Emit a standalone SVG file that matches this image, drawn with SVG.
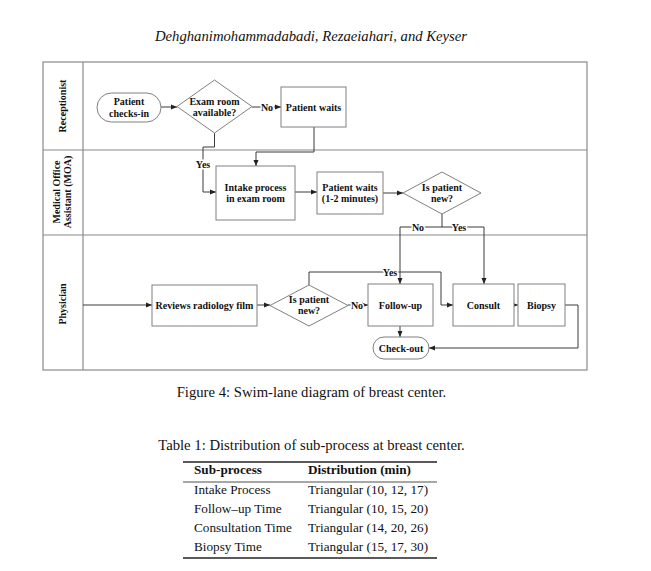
<svg xmlns="http://www.w3.org/2000/svg" width="651" height="571" viewBox="0 0 651 571">
<style>
.lane{fill:none;stroke:#8a8a8a;stroke-width:1.2}
.node{fill:#fff;stroke:#808080;stroke-width:1}
.nt{font-family:"Liberation Serif","Times New Roman",serif;font-size:10px;font-weight:bold;fill:#111;text-anchor:middle}
.lt{font-family:"Liberation Serif","Times New Roman",serif;font-size:10px;font-weight:bold;fill:#111;text-anchor:middle;stroke:#fff;stroke-width:3;paint-order:stroke}
.con{fill:none;stroke:#3a3a3a;stroke-width:1}
.arr{marker-end:url(#ah)}
.cap{font-family:"Liberation Serif","Times New Roman",serif;font-size:14.7px;fill:#111}
.tb{font-family:"Liberation Serif","Times New Roman",serif;font-size:13.2px;fill:#111}
</style>
<defs>
<marker id="ah" markerWidth="6" markerHeight="6" refX="6" refY="3" orient="auto" markerUnits="userSpaceOnUse">
<path d="M0,0.5 L6,3 L0,5.5 z" fill="#222"/>
</marker>
</defs>
<rect width="651" height="571" fill="#fff"/>
<text class="cap" x="311" y="41" text-anchor="middle" font-style="italic" font-size="15">Dehghanimohammadabadi, Rezaeiahari, and Keyser</text>

<g id="lanes">
<rect class="lane" x="43" y="62" width="544" height="308"/>
<line class="lane" x1="83" y1="62" x2="83" y2="370"/>
<line class="lane" x1="43" y1="150" x2="587" y2="150"/>
<line class="lane" x1="43" y1="235" x2="587" y2="235"/>
<g class="nt">
<text transform="translate(62,106) rotate(-90)" y="3.5">Receptionist</text>
<text transform="translate(56,192) rotate(-90)" y="3.5">Medical Office</text>
<text transform="translate(67,192) rotate(-90)" y="3.5">Assistant (MOA)</text>
<text transform="translate(62,304) rotate(-90)" y="3.5">Physician</text>
</g>
</g>

<g id="connectors">
<path class="con arr" d="M161,107 L177,107"/>
<path class="con arr" d="M252,107 L281,107"/>
<path class="con arr" d="M214.5,133 L214.5,147 L203,147 L203,192 L216,192"/>
<path class="con arr" d="M314,127 L314,152 L256,152 L256,166"/>
<path class="con arr" d="M295,192 L317,192"/>
<path class="con arr" d="M383,193 L403,193"/>
<path class="con" d="M442,214 L442,227 M400,227 L484,227"/>
<path class="con arr" d="M400,227 L400,284"/>
<path class="con arr" d="M484,227 L484,284"/>
<path class="con arr" d="M83,305 L152,305"/>
<path class="con arr" d="M257,305 L270,305"/>
<path class="con arr" d="M348,305 L368,305"/>
<path class="con arr" d="M309,285 L309,272 L441,272 L441,305 L453,305"/>
<path class="con arr" d="M513,305 L518,305"/>
<path class="con arr" d="M565,305 L578,305 L578,348 L429,348"/>
<path class="con arr" d="M400,326 L400,337"/>
<text class="lt" x="267" y="110.5">No</text>
<text class="lt" x="203" y="167.5">Yes</text>
<text class="lt" x="418" y="230.5">No</text>
<text class="lt" x="459" y="230.5">Yes</text>
<text class="lt" x="390" y="275.5">Yes</text>
<text class="lt" x="357" y="308.5">No</text>
</g>

<g id="n-checkin">
<rect class="node" x="97" y="93" width="64" height="29" rx="14.5"/>
<text class="nt" x="129" y="104.5">Patient</text>
<text class="nt" x="129" y="116.5">checks-in</text>
</g>
<g id="n-examroom">
<path class="node" d="M214.5,80 L252,106.5 L214.5,133 L177,106.5 z"/>
<text class="nt" x="214.5" y="104.5">Exam room</text>
<text class="nt" x="214.5" y="115.5">available?</text>
</g>
<g id="n-waits">
<rect class="node" x="281" y="87" width="65" height="40"/>
<text class="nt" x="313.5" y="110.5">Patient waits</text>
</g>
<g id="n-intake">
<rect class="node" x="216" y="166" width="79" height="54"/>
<text class="nt" x="255.5" y="190.5">Intake process</text>
<text class="nt" x="255.5" y="201.5">in exam room</text>
</g>
<g id="n-waits2">
<rect class="node" x="317" y="172" width="66" height="42"/>
<text class="nt" x="350" y="190.5">Patient waits</text>
<text class="nt" x="350" y="201.5">(1-2 minutes)</text>
</g>
<g id="n-new1">
<path class="node" d="M442,172 L481,193 L442,214 L403,193 z"/>
<text class="nt" x="442" y="190.5">Is patient</text>
<text class="nt" x="442" y="202">new?</text>
</g>
<g id="n-reviews">
<rect class="node" x="152" y="285" width="105" height="41"/>
<text class="nt" x="204.5" y="308.5">Reviews radiology film</text>
</g>
<g id="n-new2">
<path class="node" d="M309,285 L348,305.5 L309,326 L270,305.5 z"/>
<text class="nt" x="309" y="302.5">Is patient</text>
<text class="nt" x="309" y="314">new?</text>
</g>
<g id="n-followup">
<rect class="node" x="368" y="284" width="65" height="42"/>
<text class="nt" x="400.5" y="308.5">Follow-up</text>
</g>
<g id="n-consult">
<rect class="node" x="453" y="284" width="61" height="42"/>
<text class="nt" x="483.5" y="308.5">Consult</text>
</g>
<g id="n-biopsy">
<rect class="node" x="518" y="284" width="47" height="42"/>
<text class="nt" x="541.5" y="308.5">Biopsy</text>
</g>
<g id="n-checkout">
<rect class="node" x="373" y="337" width="56" height="22" rx="11"/>
<text class="nt" x="401" y="351.5">Check-out</text>
</g>

<text class="cap" x="311.5" y="397" text-anchor="middle">Figure 4: Swim-lane diagram of breast center.</text>

<g id="table">
<text class="cap" x="311.5" y="450" text-anchor="middle">Table 1: Distribution of sub-process at breast center.</text>
<line x1="183" y1="462" x2="437" y2="462" stroke="#222" stroke-width="1.3"/>
<line x1="183" y1="482" x2="437" y2="482" stroke="#222" stroke-width="0.8"/>
<line x1="183" y1="558" x2="437" y2="558" stroke="#222" stroke-width="1.3"/>
<text class="tb" x="194" y="474" font-weight="bold">Sub-process</text>
<text class="tb" x="308" y="474" font-weight="bold">Distribution (min)</text>
<text class="tb" x="194" y="494">Intake Process</text>
<text class="tb" x="308" y="494">Triangular (10, 12, 17)</text>
<text class="tb" x="194" y="513">Follow–up Time</text>
<text class="tb" x="308" y="513">Triangular (10, 15, 20)</text>
<text class="tb" x="194" y="532">Consultation Time</text>
<text class="tb" x="308" y="532">Triangular (14, 20, 26)</text>
<text class="tb" x="194" y="551">Biopsy Time</text>
<text class="tb" x="308" y="551">Triangular (15, 17, 30)</text>
</g>
</svg>
